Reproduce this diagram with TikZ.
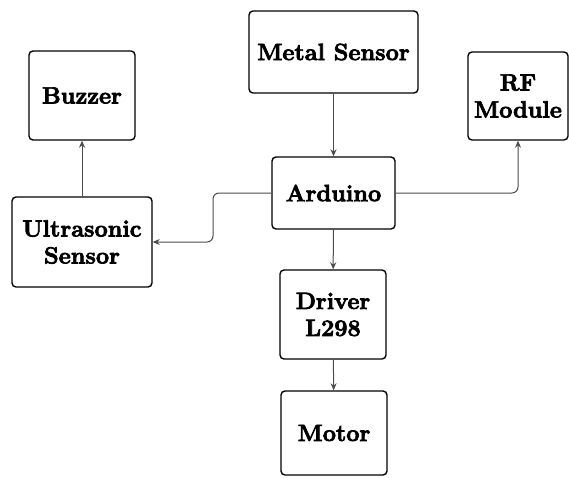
\documentclass[tikz,border=0pt]{standalone}
\usepackage{fontspec}
\setmainfont{Latin Modern Roman}[BoldFeatures={FakeBold=3}]
\usepackage{tikz}
\usetikzlibrary{positioning,arrows.meta}

\begin{document}
\begin{tikzpicture}[
  x=1pt, y=-1pt,
  block/.style={draw, line width=1.4pt, rounded corners=4pt, align=center, font=\fontsize{23.5}{27}\selectfont\bfseries, inner sep=2pt},
  arrow/.style={->, >={Stealth[length=7pt,width=6pt]}, line width=1pt, black!70}
]
\useasboundingbox (0,0) rectangle (569,477);

% Central column
\node[block, minimum width=169pt, minimum height=82pt] (metal) at (333.5, 52) {Metal Sensor};
\node[block, minimum width=123pt, minimum height=72pt] (arduino) at (333.5, 193) {Arduino};
\node[block, minimum width=106pt, minimum height=89pt] (driver) at (333, 314.5) {Driver\\L298};
\node[block, minimum width=106pt, minimum height=84pt] (motor) at (334, 433) {Motor};

% Left side
\node[block, minimum width=106pt, minimum height=89pt] (buzzer) at (82, 95.5) {Buzzer};
\node[block, minimum width=140pt, minimum height=90pt] (ultra) at (82, 242) {Ultrasonic\\Sensor};

% Right side
\node[block, minimum width=100pt, minimum height=88pt] (rf) at (518, 96) {RF\\Module};

% Connections
\coordinate (ubend) at (213, 242);
\draw[arrow] (metal) -- (arduino);
\draw[arrow] (arduino) -- (driver);
\draw[arrow] (driver) -- (motor);
\draw[arrow] (ultra) -- (buzzer);
\draw[arrow, rounded corners=6pt] (arduino.west) -- (arduino.west -| ubend) -- (ubend) -- (ultra.east);
\draw[arrow, rounded corners=6pt] (arduino.east) -| (rf);
\end{tikzpicture}
\end{document}
